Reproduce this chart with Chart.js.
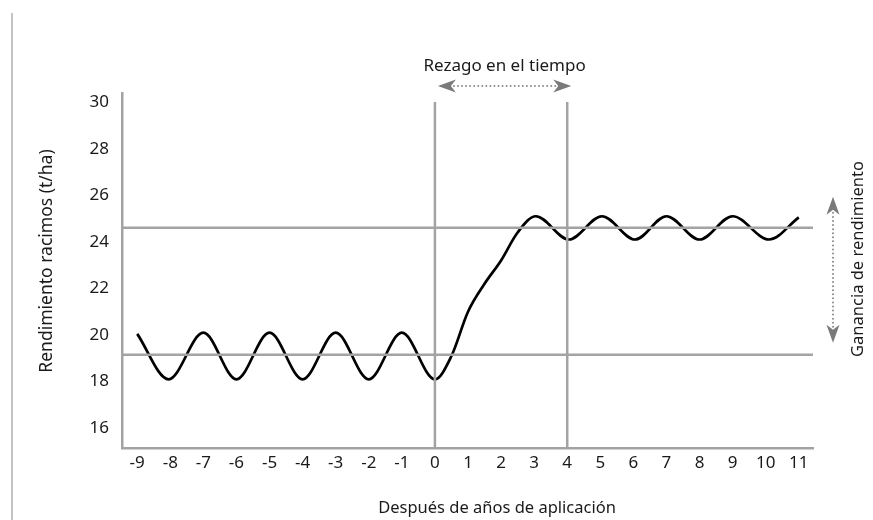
<!DOCTYPE html>
<html>
<head>
<meta charset="utf-8">
<script src="https://cdn.jsdelivr.net/npm/chart.js@4.4.0/dist/chart.umd.min.js"></script>
<style>
  html, body { margin: 0; padding: 0; background: #fff; }
  canvas { display: block; }
</style>
</head>
<body>
<canvas id="Rendimiento" width="873" height="520"></canvas>
<script>
// años respecto a la aplicación y rendimiento
const years = [-9, -8.05, -7, -6, -5, -4, -3, -2, -1, 0, 0.5, 1, 1.5, 2, 2.5, 3.05, 4.05, 5.05, 6.05, 7, 8, 9, 10.1, 11];
const yieldValues = [20.05, 18.1, 20.1, 18.1, 20.1, 18.1, 20.1, 18.1, 20.1, 18.1, 19.1, 21.0, 22.2, 23.2, 24.4, 25.1, 24.1, 25.1, 24.1, 25.1, 24.1, 25.1, 24.1, 25.05];

const xTicks = [-9, -8, -7, -6, -5, -4, -3, -2, -1, 0, 1, 2, 3, 4, 5, 6, 7, 8, 9, 10, 11];
const yTicks = [16, 18, 20, 22, 24, 26, 28, 30];

const levelBefore = 19.15;   // nivel medio antes
const levelAfter = 24.6;     // nivel medio después
const lagStart = 0;
const lagEnd = 4;

const xMin = -9.46, xMax = 11.43;
const yMin = 15.15, yMax = 30.39;

const gray = '#a3a3a3';
const font = '"Noto Sans", "Open Sans", sans-serif';

function dotted(ctx, x1, y1, x2, y2) {
    const len = Math.hypot(x2 - x1, y2 - y1);
    const n = Math.floor(len / 4);
    ctx.fillStyle = '#8a8a8a';
    for (let i = 0; i <= n; i++) {
        const t = i / n;
        ctx.beginPath();
        ctx.arc(x1 + (x2 - x1) * t, y1 + (y2 - y1) * t, 1, 0, Math.PI * 2);
        ctx.fill();
    }
}

function head(ctx, x, y, dx, dy) {
    // punta en (x,y), apuntando en la dirección (dx,dy)
    const L = 18, W = 6.5;
    const px = -dy, py = dx;
    ctx.fillStyle = '#7a7a7a';
    ctx.beginPath();
    ctx.moveTo(x, y);
    ctx.lineTo(x - dx * L + px * W, y - dy * L + py * W);
    ctx.lineTo(x - dx * L * 0.72, y - dy * L * 0.72);
    ctx.lineTo(x - dx * L - px * W, y - dy * L - py * W);
    ctx.closePath();
    ctx.fill();
}

const extras = {
    id: 'extras',
    afterDraw(chart) {
        const ctx = chart.ctx;
        const xs = chart.scales.x, ys = chart.scales.y;
        const area = chart.chartArea;
        ctx.save();

        // borde izquierdo de la página
        ctx.strokeStyle = '#c4c4c4';
        ctx.lineWidth = 2;
        ctx.beginPath();
        ctx.moveTo(12, 13);
        ctx.lineTo(12, 520);
        ctx.stroke();

        ctx.fillStyle = '#1a1a1a';
        ctx.font = '17px ' + font;
        ctx.textAlign = 'center';
        ctx.textBaseline = 'middle';

        // rezago en el tiempo
        const ax1 = xs.getPixelForValue(lagStart) + 3;
        const ax2 = xs.getPixelForValue(lagEnd) + 4;
        const ay = 86;
        ctx.fillText('Rezago en el tiempo', (ax1 + ax2) / 2, 66);
        dotted(ctx, ax1 + 16, ay, ax2 - 16, ay);
        head(ctx, ax1, ay, -1, 0);
        head(ctx, ax2, ay, 1, 0);

        // ganancia de rendimiento
        const vx = area.right + 20;
        const vy1 = ys.getPixelForValue(levelAfter) - 31;
        const vy2 = ys.getPixelForValue(levelBefore) - 12;
        dotted(ctx, vx, vy1 + 16, vx, vy2 - 16);
        head(ctx, vx, vy1, 0, -1);
        head(ctx, vx, vy2, 0, 1);

        ctx.fillStyle = '#1a1a1a';
        ctx.save();
        ctx.translate(858, 259);
        ctx.rotate(-Math.PI / 2);
        ctx.font = '16.5px ' + font;
        ctx.fillText('Ganancia de rendimiento', 0, 0);
        ctx.restore();

        ctx.save();
        ctx.translate(47, 261);
        ctx.rotate(-Math.PI / 2);
        ctx.font = '17.5px ' + font;
        ctx.fillText('Rendimiento racimos (t/ha)', 0, 0);
        ctx.restore();

        ctx.font = '16.5px ' + font;
        ctx.fillText('Después de años de aplicación', 497, 508);
        ctx.restore();
    }
};

const refStyle = {
    type: 'line',
    borderColor: gray,
    borderWidth: 2.5,
    pointRadius: 0,
    tension: 0
};

const chart = new Chart(document.getElementById('Rendimiento'), {
    type: 'line',
    data: {
        datasets: [
            Object.assign({ data: [{ x: xMin, y: levelBefore }, { x: xMax, y: levelBefore }] }, refStyle),
            Object.assign({ data: [{ x: xMin, y: levelAfter }, { x: xMax, y: levelAfter }] }, refStyle),
            Object.assign({ data: [{ x: lagStart, y: yMin }, { x: lagStart, y: 30 }] }, refStyle),
            Object.assign({ data: [{ x: lagEnd, y: yMin }, { x: lagEnd, y: 30 }] }, refStyle),
            {
                label: 'Rendimiento',
                data: years.map((x, i) => ({ x: x, y: yieldValues[i] })),
                borderColor: '#000',
                borderWidth: 2.7,
                pointRadius: 0,
                cubicInterpolationMode: 'monotone'
            }
        ]
    },
    options: {
        responsive: false,
        animation: false,
        devicePixelRatio: 1,
        layout: { padding: { top: 93, right: 60, left: 0, bottom: 0 } },
        plugins: {
            legend: { display: false },
            tooltip: { enabled: false }
        },
        scales: {
            x: {
                type: 'linear',
                min: xMin,
                max: xMax,
                afterBuildTicks: s => { s.ticks = xTicks.map(v => ({ value: v })); },
                afterFit: s => { s.height = 72; },
                grid: { display: false, drawTicks: false },
                border: { display: true, color: gray, width: 2.5 },
                ticks: { color: '#1a1a1a', font: { family: font, size: 17 }, padding: 5, maxRotation: 0, autoSkip: false }
            },
            y: {
                type: 'linear',
                min: yMin,
                max: yMax,
                afterBuildTicks: s => { s.ticks = yTicks.map(v => ({ value: v })); },
                afterFit: s => { s.width = 122; },
                grid: { display: false, drawTicks: false },
                border: { display: true, color: gray, width: 2.5 },
                ticks: { color: '#1a1a1a', font: { family: font, size: 17 }, padding: 13 }
            }
        }
    },
    plugins: [extras]
});
</script>
</body>
</html>
